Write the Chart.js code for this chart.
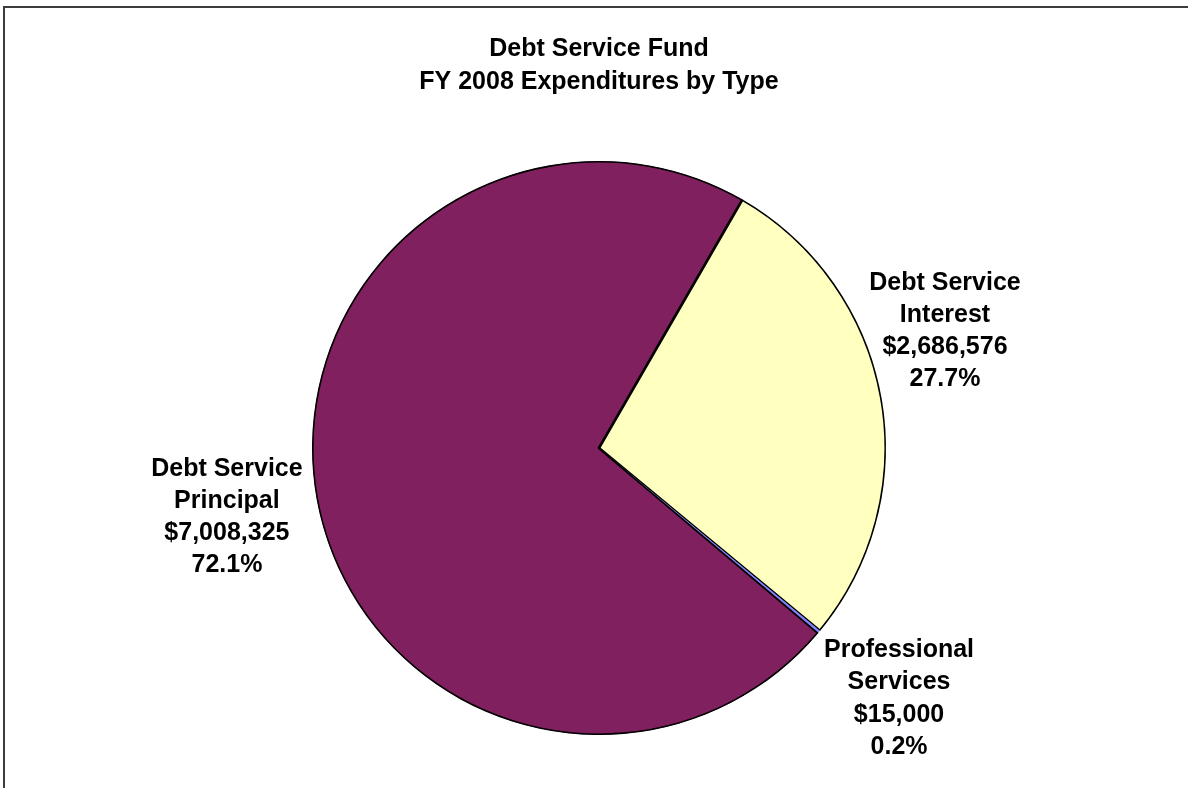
<!DOCTYPE html>
<html>
<head>
<meta charset="utf-8">
<title>Debt Service Fund - FY 2008 Expenditures by Type</title>
<script src="https://cdn.jsdelivr.net/npm/chart.js@4.4.1/dist/chart.umd.min.js"></script>
<style>
  html, body { margin: 0; padding: 0; background: #fff; overflow: hidden; }
  #wrap { position: relative; width: 1188px; height: 788px; }
  #frame { position: absolute; left: 3px; top: 6px; width: 1300px; height: 900px;
           border-top: 2px solid #3c3c3c; border-left: 2px solid #3c3c3c; }
  canvas { position: absolute; left: 0; top: 0; }
</style>
</head>
<body>
<div id="wrap">
  <div id="frame"></div>
  <canvas id="fundPie" width="1188" height="788"></canvas>
</div>
<script>
// FY 2008 debt service expenditures
const categories = ['Debt Service Interest', 'Professional Services', 'Debt Service Principal'];
const labelLines = [['Debt Service', 'Interest'], ['Professional', 'Services'], ['Debt Service', 'Principal']];
const amounts = [2686576, 15000, 7008325];
const pctLabels = ['27.7%', '0.2%', '72.1%'];
const sliceColors = ['#FFFFC0', '#8080FF', '#80205F'];

const FONT = '"Liberation Sans", Arial, Helvetica, sans-serif';

function money(v) {
  return '$' + v.toLocaleString('en-US');
}

// outside-end data labels, pushed out along each slice's middle angle
const nudges = [{ x: -26, y: -50 }, { x: 0, y: 0 }, { x: 0, y: 4 }];
const outsideLabels = {
  id: 'outsideLabels',
  afterDatasetsDraw(chart) {
    const ctx = chart.ctx;
    const meta = chart.getDatasetMeta(0);
    const lineH = 32.3;
    ctx.save();
    ctx.font = 'bold 25px ' + FONT;
    ctx.fillStyle = '#000';
    ctx.textAlign = 'center';
    ctx.textBaseline = 'middle';
    meta.data.forEach((arc, i) => {
      const p = arc.getProps(['x', 'y', 'startAngle', 'endAngle', 'outerRadius'], true);
      const mid = (p.startAngle + p.endAngle) / 2;
      const dx = Math.cos(mid), dy = Math.sin(mid);
      const lines = labelLines[i].concat([money(amounts[i]), pctLabels[i]]);
      const w = Math.max(...lines.map(t => ctx.measureText(t).width));
      const h = lines.length * lineH;
      const dist = p.outerRadius + 5 + Math.abs(dx) * w / 2 + Math.abs(dy) * h / 2;
      const cx = p.x + dx * dist + nudges[i].x;
      const cy = p.y + dy * dist + nudges[i].y;
      lines.forEach((t, k) => {
        ctx.fillText(t, cx, cy - h / 2 + lineH * (k + 0.5));
      });
    });
    ctx.restore();
  }
};

function initChart() {
  const ctx = document.getElementById('fundPie').getContext('2d');
  new Chart(ctx, {
    type: 'pie',
    data: {
      labels: categories,
      datasets: [{
        data: amounts,
        backgroundColor: sliceColors,
        borderColor: '#000',
        borderAlign: 'inner',
        borderWidth: [1.3, 0, 1.3]
      }]
    },
    options: {
      responsive: false,
      animation: false,
      rotation: 30,
      radius: 287,
      layout: { padding: { left: 10, right: 0, top: 0, bottom: 2 } },
      plugins: {
        legend: { display: false },
        tooltip: { enabled: false },
        title: {
          display: true,
          text: ['Debt Service Fund', 'FY 2008 Expenditures by Type'],
          color: '#000',
          font: { family: FONT, size: 25, weight: 'bold', lineHeight: 1.3 },
          padding: { top: 33, bottom: 12 }
        }
      }
    },
    plugins: [outsideLabels]
  });
}

document.addEventListener('DOMContentLoaded', initChart);
</script>
</body>
</html>
